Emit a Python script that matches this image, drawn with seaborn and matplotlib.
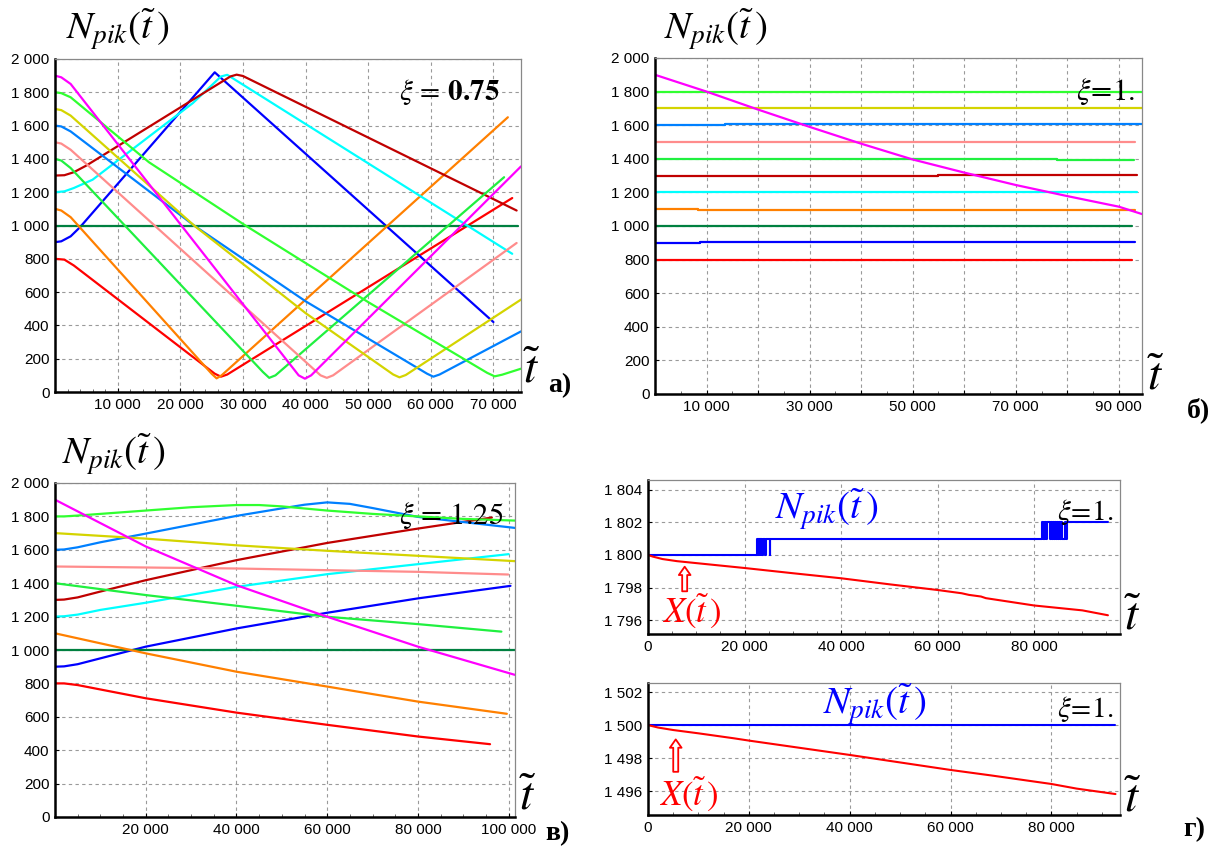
import matplotlib
matplotlib.use("Agg")
import numpy as np
import pandas as pd
import matplotlib.pyplot as plt
import seaborn as sns
from matplotlib.ticker import MultipleLocator, FuncFormatter

sns.set_theme(style="white")
plt.rcParams["font.family"] = ["Liberation Sans", "DejaVu Sans"]
plt.rcParams["mathtext.fontset"] = "stix"

# ---------------- colours of the series (by starting level) ----------------
COL = {
    "800": "#ff0000", "900": "#0000ff", "1000": "#008040", "1100": "#ff8000",
    "1200": "#00ffff", "1300": "#c00000", "1400": "#20f040", "1500": "#ff8c8c",
    "1600": "#0080ff", "1700": "#d4d400", "1800": "#30ff30", "1900": "#ff00ff",
}

# ---------------- panel а) xi = 0.75 ----------------
A_T_800 = [0, 1500, 3000, 25500, 26500, 27500, 73000]
A_N_800 = [800, 795, 760, 110, 92, 105, 1165]
A_T_900 = [0, 1000, 2500, 4000, 25500, 70000]
A_N_900 = [900, 905, 935, 990, 1920, 420]
A_T_1000 = [0, 74000]
A_N_1000 = [1000, 1000]
A_T_1100 = [0, 1000, 2500, 25000, 25800, 26600, 72300]
A_N_1100 = [1100, 1090, 1050, 110, 82, 100, 1650]
A_T_1200 = [0, 1500, 3000, 6000, 22000, 26500, 27500, 73000]
A_N_1200 = [1200, 1205, 1225, 1275, 1735, 1895, 1905, 830]
A_T_1300 = [0, 1500, 3000, 5000, 28000, 29000, 30000, 73700]
A_N_1300 = [1300, 1302, 1320, 1360, 1895, 1906, 1898, 1090]
A_T_1400 = [0, 1000, 2500, 33200, 34200, 35200, 71700]
A_N_1400 = [1400, 1390, 1345, 120, 85, 100, 1290]
A_T_1500 = [0, 1000, 2500, 42400, 43400, 44400, 73700]
A_N_1500 = [1500, 1492, 1455, 100, 85, 100, 895]
A_T_1600 = [0, 1000, 2500, 22200, 40000, 59400, 60400, 61400, 74400]
A_N_1600 = [1600, 1595, 1565, 1000, 545, 110, 92, 105, 364]
A_T_1700 = [0, 1000, 2500, 22200, 40000, 54000, 55000, 56000, 74400]
A_N_1700 = [1700, 1693, 1660, 1000, 474, 105, 88, 102, 555]
A_T_1800 = [0, 1000, 2500, 15000, 30400, 50000, 69000, 70200, 71400, 74400]
A_N_1800 = [1800, 1795, 1770, 1380, 1000, 540, 115, 94, 104, 140]
A_T_1900 = [0, 1000, 2500, 38900, 39900, 40900, 74400]
A_N_1900 = [1900, 1890, 1850, 100, 80, 100, 1355]

# ---------------- panel б) xi = 1 ----------------
B_T_800 = [0, 92600]
B_N_800 = [800, 800]
B_T_900 = [0, 8800, 8800, 93200]
B_N_900 = [900, 900, 905, 905]
B_T_1000 = [0, 92600]
B_N_1000 = [1000, 1000]
B_T_1100 = [0, 8300, 8300, 93200]
B_N_1100 = [1100, 1100, 1095, 1095]
B_T_1200 = [0, 93600]
B_N_1200 = [1200, 1200]
B_T_1300 = [0, 54900, 54900, 93600]
B_N_1300 = [1300, 1300, 1305, 1305]
B_T_1400 = [0, 78000, 78000, 93000]
B_N_1400 = [1400, 1400, 1395, 1395]
B_T_1500 = [0, 93200]
B_N_1500 = [1500, 1500]
B_T_1600 = [0, 13500, 13500, 94500]
B_N_1600 = [1600, 1600, 1605, 1605]
B_T_1700 = [0, 94500]
B_N_1700 = [1700, 1700]
B_T_1800 = [0, 94500]
B_N_1800 = [1800, 1800]
B_T_1900 = [0, 10000, 20000, 30000, 40000, 50000, 60000, 70000, 80000, 90000, 94500]
B_N_1900 = [1900, 1800, 1693, 1590, 1490, 1396, 1318, 1244, 1178, 1115, 1071]

# ---------------- panel в) xi = 1.25 ----------------
C_T_800 = [0, 2000, 5000, 20000, 40000, 60000, 80000, 95900]
C_N_800 = [800, 800, 790, 711, 625, 552, 482, 436]
C_T_900 = [0, 2000, 5000, 10000, 20000, 40000, 60000, 80000, 100400]
C_N_900 = [900, 902, 915, 950, 1020, 1129, 1223, 1309, 1384]
C_T_1000 = [0, 101400]
C_N_1000 = [1000, 1000]
C_T_1100 = [0, 20000, 40000, 60000, 80000, 99600]
C_N_1100 = [1100, 980, 870, 781, 691, 618]
C_T_1200 = [0, 2000, 5000, 10000, 20000, 40000, 60000, 80000, 100000]
C_N_1200 = [1200, 1202, 1212, 1240, 1283, 1378, 1454, 1514, 1574]
C_T_1300 = [0, 2000, 5000, 10000, 20000, 40000, 60000, 80000, 96300]
C_N_1300 = [1300, 1302, 1315, 1350, 1418, 1538, 1641, 1727, 1793]
C_T_1400 = [0, 20000, 40000, 60000, 80000, 98400]
C_N_1400 = [1400, 1329, 1265, 1199, 1155, 1110]
C_T_1500 = [0, 20000, 40000, 60000, 80000, 99900]
C_N_1500 = [1500, 1494, 1488, 1478, 1468, 1452]
C_T_1600 = [0, 2000, 5000, 10000, 20000, 40000, 50000, 55000, 60000, 65000, 70000, 80000, 101400]
C_N_1600 = [1600, 1602, 1615, 1645, 1697, 1803, 1848, 1870, 1884, 1875, 1850, 1797, 1731]
C_T_1700 = [0, 20000, 40000, 60000, 80000, 101400]
C_N_1700 = [1700, 1667, 1627, 1594, 1564, 1532]
C_T_1800 = [0, 2000, 5000, 10000, 20000, 30000, 40000, 45000, 50000, 60000, 70000, 80000, 90000, 101400]
C_N_1800 = [1800, 1800, 1805, 1815, 1835, 1855, 1868, 1868, 1860, 1835, 1815, 1800, 1785, 1775]
C_T_1900 = [0, 20000, 40000, 60000, 80000, 101400]
C_N_1900 = [1900, 1620, 1388, 1199, 1020, 851]

# ---------------- panel г) top: N_pik = 1800 ----------------
G1_T_NPIK = [0, 22600, 22750, 22850, 22950, 23050, 23150, 23250, 23350, 23500, 23650,
             23800, 24300, 24450, 25200, 25350, 25700, 81700, 81850, 82000, 82150,
             82300, 82500, 82700, 83300, 83500, 83700, 83900, 84100, 84300, 84500,
             84700, 84900, 85100, 85300, 85500, 85700, 86500, 86650, 86800, 95300]
G1_N_NPIK = [1800, 1801, 1800, 1801, 1800, 1801, 1800, 1801, 1800, 1801, 1800,
             1801, 1800, 1801, 1800, 1801, 1801, 1802, 1801, 1802, 1801,
             1802, 1801, 1802, 1801, 1802, 1801, 1802, 1801, 1802, 1801,
             1802, 1801, 1802, 1801, 1802, 1801, 1802, 1801, 1802, 1802]
G1_T_X = [0, 1000, 3000, 6000, 10000, 20000, 30000, 40000, 50000, 60000, 65000,
          66500, 69000, 70000, 80000, 90000, 95300]
G1_N_X = [1800.0, 1799.9, 1799.75, 1799.62, 1799.5, 1799.2, 1798.88, 1798.57, 1798.2,
          1797.85, 1797.65, 1797.55, 1797.45, 1797.35, 1796.9, 1796.6, 1796.3]

# ---------------- panel г) bottom: N_pik = 1500 ----------------
G2_T_NPIK = [0, 92700]
G2_N_NPIK = [1500, 1500]
G2_T_X = [0, 2000, 5000, 10000, 17000, 20000, 40000, 60000, 68000, 80000, 85000, 92700]
G2_N_X = [1500.0, 1499.85, 1499.7, 1499.5, 1499.2, 1499.06, 1498.19, 1497.28, 1496.95,
          1496.43, 1496.15, 1495.82]

W, H = 1224, 848
fig = plt.figure(figsize=(W / 100, H / 100), dpi=100)
fig.patch.set_facecolor("white")


def add_axes(l, r, t, b):
    return fig.add_axes([l / W, 1 - b / H, (r - l) / W, (b - t) / H])


def thousands(v, p):
    return f"{int(round(v)):,}".replace(",", " ")


def frame(series):
    parts = [pd.DataFrame({"t": t, "N": n, "key": k}) for k, (t, n) in series.items()]
    return pd.concat(parts, ignore_index=True)


def draw(ax, series, palette, lw=1.6, **kw):
    df = frame(series)
    sns.lineplot(data=df, x="t", y="N", hue="key", units="key", estimator=None,
                 sort=False, legend=False, palette=palette, ax=ax, lw=lw, **kw)


def style(ax, xlim, ylim, xmaj, xmin, ymaj, xfmt=None, yfmt=thousands):
    ax.set_xlim(xlim)
    ax.set_ylim(ylim)
    ax.xaxis.set_major_locator(MultipleLocator(xmaj))
    ax.xaxis.set_minor_locator(MultipleLocator(xmin))
    ax.yaxis.set_major_locator(MultipleLocator(ymaj))
    ax.xaxis.set_major_formatter(FuncFormatter(xfmt or thousands))
    ax.yaxis.set_major_formatter(FuncFormatter(yfmt))
    ax.grid(True, which="major", color="#9a9a9a", linestyle=(0, (3, 3)), lw=0.8)
    ax.set_axisbelow(True)
    for s in ("left", "bottom"):
        ax.spines[s].set_color("black")
        ax.spines[s].set_linewidth(1.8)
    for s in ("top", "right"):
        ax.spines[s].set_color("#888888")
        ax.spines[s].set_linewidth(0.9)
    ax.tick_params(axis="both", which="major", direction="in", length=3, width=0.8,
                   labelsize=11, colors="black", pad=4)
    ax.tick_params(axis="x", which="minor", direction="in", length=2, width=0.6, colors="#555555")
    ax.tick_params(axis="x", which="both", bottom=True, top=False)
    ax.tick_params(axis="y", which="both", left=True, right=False)
    ax.set_xlabel("")
    ax.set_ylabel("")
    ax.set_facecolor("white")


def fmt_no_zero(v, p):
    return "" if abs(v) < 1 else thousands(v, p)


def fmt_odd(v, p):
    k = int(round(v / 10000))
    return thousands(v, p) if k % 2 == 1 else ""


NPIK = r"$N_{pik}(\tilde{t}\,)$"
TT = r"$\tilde{t}$"

# ---------- panel а ----------
axA = add_axes(55, 521, 59, 392)
seriesA = {
    "800": (A_T_800, A_N_800), "900": (A_T_900, A_N_900), "1000": (A_T_1000, A_N_1000),
    "1100": (A_T_1100, A_N_1100), "1200": (A_T_1200, A_N_1200), "1300": (A_T_1300, A_N_1300),
    "1400": (A_T_1400, A_N_1400), "1500": (A_T_1500, A_N_1500), "1600": (A_T_1600, A_N_1600),
    "1700": (A_T_1700, A_N_1700), "1800": (A_T_1800, A_N_1800), "1900": (A_T_1900, A_N_1900),
}
draw(axA, seriesA, COL)
style(axA, (0, 74400), (0, 2000), 10000, 2000, 200, xfmt=fmt_no_zero)
axA.text(0.955, 0.9, r"$\xi\,=\,\mathbf{0.75}$", transform=axA.transAxes, ha="right",
         va="center", fontsize=21, color="black")

# ---------- panel б ----------
axB = add_axes(655, 1142, 58, 394)
seriesB = {
    "800": (B_T_800, B_N_800), "900": (B_T_900, B_N_900), "1000": (B_T_1000, B_N_1000),
    "1100": (B_T_1100, B_N_1100), "1200": (B_T_1200, B_N_1200), "1300": (B_T_1300, B_N_1300),
    "1400": (B_T_1400, B_N_1400), "1500": (B_T_1500, B_N_1500), "1600": (B_T_1600, B_N_1600),
    "1700": (B_T_1700, B_N_1700), "1800": (B_T_1800, B_N_1800), "1900": (B_T_1900, B_N_1900),
}
draw(axB, seriesB, COL)
style(axB, (0, 94500), (0, 2000), 10000, 5000, 200, xfmt=fmt_odd)
axB.text(0.985, 0.9, r"$\xi\!=\!1.$", transform=axB.transAxes, ha="right",
         va="center", fontsize=22, color="black")

# ---------- panel в ----------
axC = add_axes(55, 515, 483, 817)
seriesC = {
    "800": (C_T_800, C_N_800), "900": (C_T_900, C_N_900), "1000": (C_T_1000, C_N_1000),
    "1100": (C_T_1100, C_N_1100), "1200": (C_T_1200, C_N_1200), "1300": (C_T_1300, C_N_1300),
    "1400": (C_T_1400, C_N_1400), "1500": (C_T_1500, C_N_1500), "1600": (C_T_1600, C_N_1600),
    "1700": (C_T_1700, C_N_1700), "1800": (C_T_1800, C_N_1800), "1900": (C_T_1900, C_N_1900),
}
draw(axC, seriesC, COL)
style(axC, (0, 101400), (0, 2000), 20000, 5000, 200, xfmt=fmt_no_zero)
axC.text(0.975, 0.9, r"$\xi\,=\,1.25$", transform=axC.transAxes, ha="right",
         va="center", fontsize=22, color="black")

# ---------- panel г top ----------
axD = add_axes(648, 1120, 480, 634)
draw(axD, {"npik": (G1_T_NPIK, G1_N_NPIK)}, {"npik": "#0000ff"}, lw=1.5, drawstyle="steps-post")
draw(axD, {"x": (G1_T_X, G1_N_X)}, {"x": "#ff0000"}, lw=1.5)
style(axD, (0, 97800), (1795.15, 1804.6), 20000, 5000, 2)
axD.text(0.985, 0.79, r"$\xi\!=\!1.$", transform=axD.transAxes, ha="right",
         va="center", fontsize=21, color="black")
axD.text(37000, 1802.75, NPIK, ha="center", va="center", fontsize=28, color="#0000ff")
axD.annotate("", xy=(7600, 1799.45), xytext=(7600, 1797.6),
             arrowprops=dict(arrowstyle="simple,head_length=0.5,head_width=0.7,tail_width=0.3",
                             fc="white", ec="#ff0000", lw=1.3))
axD.text(9000, 1796.55, r"$X(\tilde{t}\,)$", ha="center", va="center", fontsize=25,
         color="#ff0000")

# ---------- panel г bottom ----------
axE = add_axes(648, 1120, 683, 815)
draw(axE, {"npik": (G2_T_NPIK, G2_N_NPIK)}, {"npik": "#0000ff"}, lw=1.5)
draw(axE, {"x": (G2_T_X, G2_N_X)}, {"x": "#ff0000"}, lw=1.5)
style(axE, (0, 93600), (1494.55, 1502.55), 20000, 5000, 2)
axE.text(0.985, 0.8, r"$\xi\!=\!1.$", transform=axE.transAxes, ha="right",
         va="center", fontsize=21, color="black")
axE.text(45000, 1501.2, NPIK, ha="center", va="center", fontsize=28, color="#0000ff")
axE.annotate("", xy=(5500, 1499.3), xytext=(5500, 1497.0),
             arrowprops=dict(arrowstyle="simple,head_length=0.5,head_width=0.7,tail_width=0.3",
                             fc="white", ec="#ff0000", lw=1.3))
axE.text(8000, 1495.8, r"$X(\tilde{t}\,)$", ha="center", va="center", fontsize=25,
         color="#ff0000")

# ---------- labels outside axes ----------
def ftext(x, y, s, **kw):
    fig.text(x / W, 1 - y / H, s, **kw)

for (x, y) in [(118, 30), (716, 30), (114, 455)]:
    ftext(x, y, NPIK, ha="center", va="center", fontsize=28, color="black")

for (x, y) in [(532, 370), (1156, 378), (528, 798), (1133, 617), (1133, 800)]:
    ftext(x, y, TT, ha="center", va="center", fontsize=34, color="black")

for (x, y, s) in [(560, 386, "а)"), (1198, 410, "б)"), (558, 834, "в)"), (1194, 830, "г)")]:
    ftext(x, y, s, ha="center", va="center", fontsize=20, fontweight="bold",
          family=["Liberation Serif", "DejaVu Serif"], color="black")

fig.savefig("out.png", dpi=100, facecolor="white")
